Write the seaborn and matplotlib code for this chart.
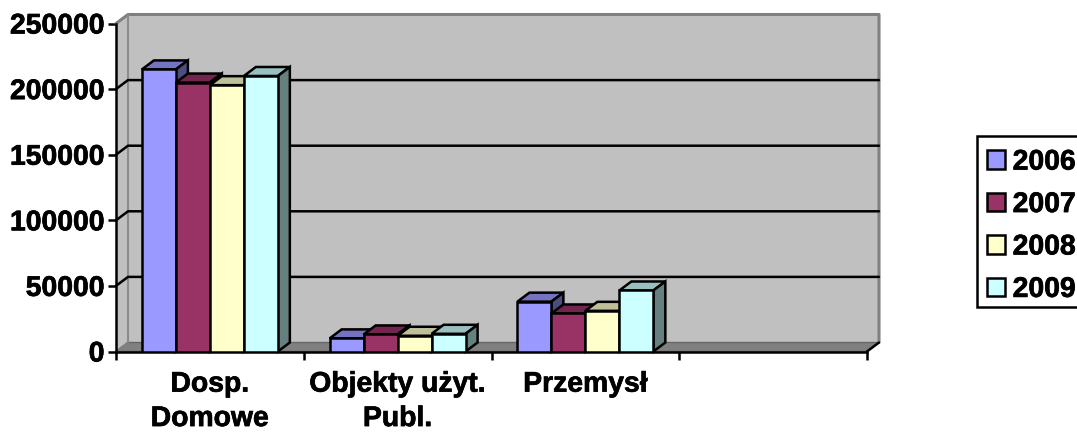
import matplotlib
matplotlib.use("Agg")
import matplotlib.pyplot as plt
import matplotlib.patheffects as pe
from matplotlib.patches import Patch, Polygon, Rectangle
import pandas as pd
import seaborn as sns

categories = ["Dosp.\nDomowe", "Objekty użyt.\nPubl.", "Przemysł"]
axis_slots = categories + [""]
years = ["2006", "2007", "2008", "2009"]
v2006 = [215000, 10000, 38000]
v2007 = [205000, 13000, 29000]
v2008 = [203000, 12000, 31000]
v2009 = [210000, 13500, 46500]
y_ticks = [0, 50000, 100000, 150000, 200000, 250000]
colors = ["#9999FF", "#993366", "#FFFFCC", "#CCFFFF"]

W, H = 1077, 432
LW = 1.8
FS = 20.4
sns.set_theme(style="white")
plt.rcParams["font.family"] = ["Liberation Sans", "DejaVu Sans"]
plt.rcParams["font.weight"] = "bold"


def shade(c, f):
    r, g, b = matplotlib.colors.to_rgb(c)
    return (r * f, g * f, b * f)


rows = []
for y, vals in zip(years, [v2006, v2007, v2008, v2009]):
    for c, v in zip(categories, vals):
        rows.append({"cat": c, "year": y, "value": v})
df = pd.DataFrame(rows)

fig = plt.figure(figsize=(W / 100, H / 100), dpi=100)
ax = fig.add_axes([116 / W, 1 - 351.5 / H, 751 / W, 328 / H])
ax.patch.set_alpha(0)

sns.barplot(data=df, x="cat", y="value", hue="year", order=axis_slots, hue_order=years,
            palette=colors, width=0.724, gap=0, saturation=1, edgecolor="black",
            linewidth=LW, legend=False, errorbar=None, ax=ax)
ax.set_xlim(-0.5, 3.5)
ax.set_ylim(0, 250000)

# depth of the fake 3d box, in data units
dx = 12 / (751 / 4)
dy = 9 / 328 * 250000
x0, x1 = -0.5, 3.5
top = 250000

# walls and floor
ax.add_patch(Polygon([(x0 + dx, dy), (x1 + dx, dy), (x1 + dx, top + dy), (x0 + dx, top + dy)],
                     fc="#C0C0C0", ec="none", zorder=0, clip_on=False))
ax.add_patch(Polygon([(x0, 0), (x0 + dx, dy), (x0 + dx, top + dy), (x0, top)],
                     fc="#C0C0C0", ec="none", zorder=0, clip_on=False))
ax.add_patch(Polygon([(x0, 0), (x1, 0), (x1 + dx, dy), (x0 + dx, dy)],
                     fc="#808080", ec="#666666", lw=1, zorder=0.5, clip_on=False))
ax.plot([x0, x0 + dx, x1 + dx, x1 + dx], [top, top + dy, top + dy, dy],
        color="#808080", lw=2.2, zorder=0.6, clip_on=False)
ax.plot([x0 + dx, x0 + dx], [dy, top + dy], color="#8C8C8C", lw=1.5, zorder=0.6, clip_on=False)

# grid on the back wall with the link to the front axis
for t in y_ticks[1:-1]:
    ax.plot([x0, x0 + dx, x1 + dx], [t, t + dy, t + dy], color="black", lw=LW,
            zorder=1, clip_on=False)
ax.plot([x0, x0 + dx], [0, dy], color="#808080", lw=1.4, zorder=1, clip_on=False)
ax.plot([x1, x1 + dx], [0, dy], color="black", lw=LW, zorder=1, clip_on=False)

# top and side faces for every bar
for i, cont in enumerate(ax.containers):
    col = colors[i]
    for bar in cont:
        h = bar.get_height()
        if not h > 0:
            continue
        a, b = bar.get_x(), bar.get_x() + bar.get_width()
        bar.set_zorder(3 + i)
        ax.add_patch(Polygon([(a, h), (b, h), (b + dx, h + dy), (a + dx, h + dy)],
                             fc=shade(col, 0.75), ec="black", lw=LW, zorder=2.9 + i,
                             joinstyle="miter", clip_on=False))
        ax.add_patch(Polygon([(b, 0), (b + dx, dy), (b + dx, h + dy), (b, h)],
                             fc=shade(col, 0.5), ec="black", lw=LW, zorder=2.9 + i,
                             joinstyle="miter", clip_on=False))

sns.despine(ax=ax, top=True, right=True)
for s in ["left", "bottom"]:
    ax.spines[s].set_color("black")
    ax.spines[s].set_linewidth(LW)
    ax.spines[s].set_zorder(2)

ax.set_xlabel("")
ax.set_ylabel("")
ax.set_yticks(y_ticks)
ax.set_yticklabels([str(t) for t in y_ticks])
ax.set_xticks([0, 1, 2, 3])
ax.set_xticklabels(axis_slots, linespacing=1.42)
ax.set_xticks([-0.5, 0.5, 1.5, 2.5, 3.5], minor=True)
ax.tick_params(axis="y", left=True, length=5.8, width=LW, color="black", pad=2.5,
               labelsize=FS, labelcolor="black")
ax.tick_params(axis="x", which="major", bottom=False, length=0, pad=14.5,
               labelsize=FS, labelcolor="black")
ax.tick_params(axis="x", which="minor", bottom=True, length=5.8, width=LW, color="black")

# legend frame runs past the right edge of the image, like the reference
fig.add_artist(Rectangle((977 / W, 1 - 307 / H), 200 / W, 171 / H, transform=fig.transFigure,
                         fc="white", ec="black", lw=LW, zorder=5))
handles = [Patch(fc=c, ec="black", lw=LW, label=y) for c, y in zip(colors, years)]
leg = ax.legend(handles=handles, loc="upper left", mode="expand",
                bbox_to_anchor=(973 / W, 1 - 136 / H, 204 / W, 0),
                bbox_transform=fig.transFigure, borderaxespad=0, fontsize=FS,
                handlelength=0.64, handleheight=0.64, handletextpad=0.28,
                labelspacing=0.58, borderpad=0.48, frameon=False)
leg.set_zorder(6)
fig.add_artist(leg)
for t in leg.get_texts():
    t.set_color("black")

stroke = [pe.withStroke(linewidth=0.5, foreground="black")]
for t in ax.get_xticklabels() + ax.get_yticklabels() + leg.get_texts():
    t.set_path_effects(stroke)

fig.savefig("out.png", dpi=100)
